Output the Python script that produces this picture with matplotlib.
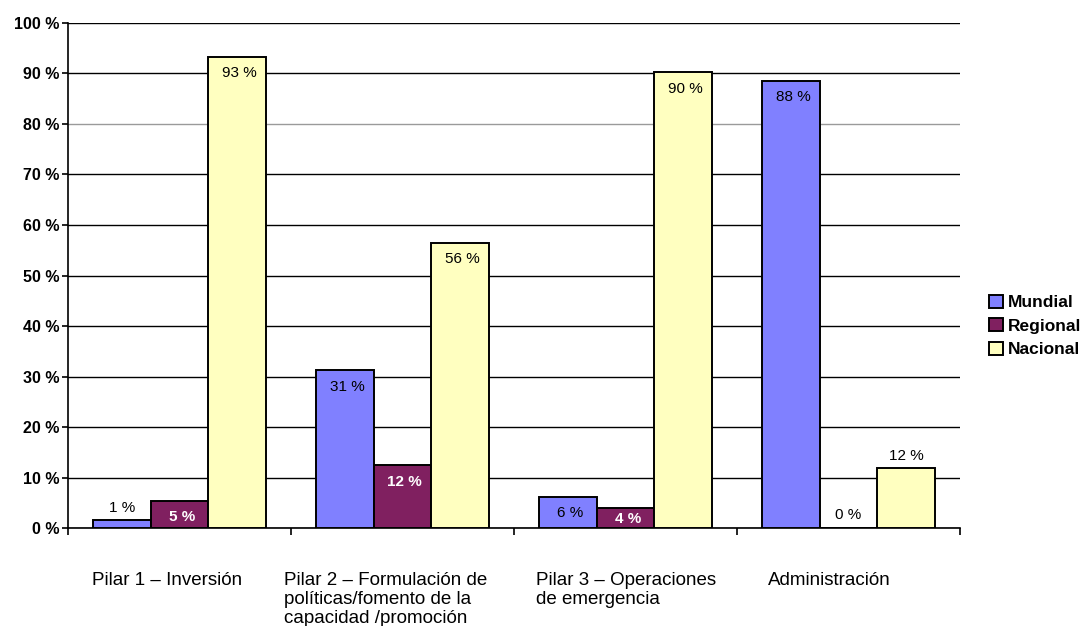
import matplotlib.pyplot as plt
import numpy as np

# Datos (porcentaje)
categories = ["Pilar 1 \u2013 Inversi\u00f3n",
              "Pilar 2 \u2013 Formulaci\u00f3n de\npol\u00edticas/fomento de la\ncapacidad /promoci\u00f3n",
              "Pilar 3 \u2013 Operaciones\nde emergencia",
              "Administraci\u00f3n"]
series_names = ["Mundial", "Regional", "Nacional"]
mundial = [1.5, 31.2, 6.1, 88.5]
regional = [5.4, 12.4, 4.0, 0.0]
nacional = [93.3, 56.5, 90.2, 11.8]
label_text = {
    "Mundial": ["1 %", "31 %", "6 %", "88 %"],
    "Regional": ["5 %", "12 %", "4 %", "0 %"],
    "Nacional": ["93 %", "56 %", "90 %", "12 %"],
}
# etiquetas que van por encima de la barra
label_outside = {
    "Mundial": [True, False, False, False],
    "Regional": [False, False, False, True],
    "Nacional": [False, False, False, True],
}
yticks = list(range(0, 101, 10))
ytick_labels = [f"{v} %" for v in yticks]

colors = {"Mundial": "#8080FF", "Regional": "#802060", "Nacional": "#FFFFC0"}
label_colors = {"Mundial": "black", "Regional": "white", "Nacional": "black"}

plt.rcParams['font.family'] = ['Liberation Sans', 'DejaVu Sans']

fig = plt.figure(figsize=(10.82, 6.26), dpi=100)
ax = fig.add_axes([0.0628, 0.1565, 0.8244, 0.8068])

x = np.arange(len(categories))
width = 0.258
values = {"Mundial": mundial, "Regional": regional, "Nacional": nacional}

for i, name in enumerate(series_names):
    pos = x + (i - 1) * width
    ax.bar(pos, values[name], width, color=colors[name], edgecolor="black",
           linewidth=1.4, label=name, zorder=3)
    for xp, v, txt, out in zip(pos, values[name], label_text[name], label_outside[name]):
        if out:
            ax.text(xp, v + 2.5, txt, ha="center", va="center", fontsize=11,
                    color="black", zorder=4)
        else:
            ax.text(xp + 0.01, max(v - 3.2, 1.8), txt, ha="center", va="center",
                    fontsize=11, color=label_colors[name],
                    fontweight="bold" if name == "Regional" else "normal", zorder=4)

ax.set_xlim(-0.5, len(categories) - 0.5)
ax.set_ylim(0, 100)
ax.set_yticks(yticks)
ax.set_yticklabels(ytick_labels, fontsize=11.5, fontweight="bold")
ax.yaxis.grid(True, color="black", linewidth=1.0, zorder=0)
ax.set_axisbelow(True)
# la linea del 80 % aparece gris en el original
for line, v in zip(ax.get_ygridlines(), yticks):
    if v == 80:
        line.set_color("#9a9a9a")

ax.set_xticks(np.arange(len(categories) + 1) - 0.5)
ax.set_xticklabels([])
ax.tick_params(axis="x", direction="out", length=5, width=1.2)
ax.tick_params(axis="y", direction="out", length=4, width=1.2, pad=2)

for s in ["top", "right"]:
    ax.spines[s].set_visible(False)
for s in ["left", "bottom"]:
    ax.spines[s].set_linewidth(1.2)

# etiquetas de categoria alineadas a la izquierda
offsets = [-0.39, -0.53, -0.40, -0.36]
for xi, cat, off in zip(x, categories, offsets):
    ax.text(xi + off, -8.8, cat, ha="left", va="top", fontsize=13.5,
            linespacing=1.12, clip_on=False)

leg = ax.legend(loc="center left", bbox_to_anchor=(1.025, 0.40), frameon=False,
                handlelength=0.8, handleheight=0.8, handletextpad=0.25,
                labelspacing=0.45, prop={"weight": "bold", "size": 12.5},
                borderaxespad=0)

fig.savefig("out.png", dpi=100)
